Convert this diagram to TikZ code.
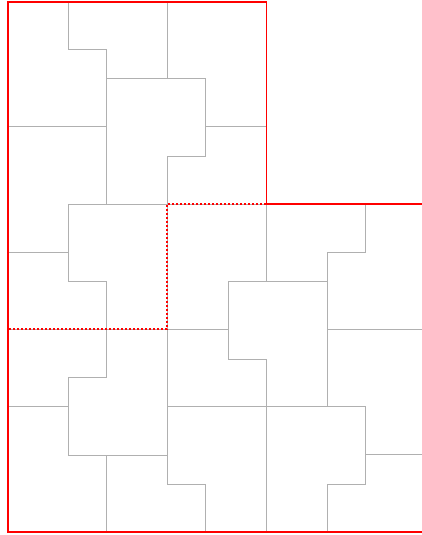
\documentclass[tikz,border=0pt]{standalone}
\definecolor{tilegray}{RGB}{176,176,176}
\definecolor{edgered}{RGB}{255,0,0}
\begin{document}
\begin{tikzpicture}[x=1pt,y=-1pt,
  tileline/.style={draw=tilegray,line width=0.8pt},
  outline/.style={draw=edgered,line width=1.6pt,line cap=rect},
  dashline/.style={draw=edgered,line width=1.1pt,dash pattern=on 2pt off 2pt}]
\fill[white] (0,0) rectangle (422,535);
\useasboundingbox (0,0) rectangle (422,535);
% gray tile edges
\draw[tileline] (68,2) -- (68,49) -- (106,49) -- (106,204);
\draw[tileline] (167,2) -- (167,78.7) -- (106,78.7);
\draw[tileline] (167,78.7) -- (205,78.7) -- (205,156) -- (167,156) -- (167,204);
\draw[tileline] (8,126.7) -- (106,126.7);
\draw[tileline] (205,126.7) -- (266.3,126.7);
\draw[tileline] (68,204) -- (266.3,204);
\draw[tileline] (68,204) -- (68,281) -- (106,281) -- (106,377.3) -- (68,377.3) -- (68,455) -- (167,455);
\draw[tileline] (8,252.3) -- (68,252.3);
\draw[tileline] (167,204) -- (167,484.3) -- (205,484.3) -- (205,532);
\draw[tileline] (8,329) -- (228,329);
\draw[tileline] (266.3,204) -- (266.3,281);
\draw[tileline] (228,281) -- (327,281);
\draw[tileline] (228,281) -- (228,359) -- (266.3,359) -- (266.3,532);
\draw[tileline] (365,204) -- (365,252.3) -- (327,252.3) -- (327,406.7);
\draw[tileline] (327,329) -- (422,329);
\draw[tileline] (8,406.7) -- (68,406.7);
\draw[tileline] (167,406.7) -- (365,406.7) -- (365,484.3) -- (327,484.3) -- (327,532);
\draw[tileline] (365,454.3) -- (422,454.3);
\draw[tileline] (106,455) -- (106,532);
% red dashed region
\draw[dashline] (266.3,204) -- (167,204) -- (167,329) -- (8,329);
% red outline
\draw[outline] (8,2) -- (8,532);
\draw[outline] (8,2) -- (266.3,2);
\draw[outline] (266.3,2) -- (266.3,204);
\draw[outline] (266.3,204) -- (422,204);
\draw[outline] (8,532) -- (422,532);
\end{tikzpicture}
\end{document}
